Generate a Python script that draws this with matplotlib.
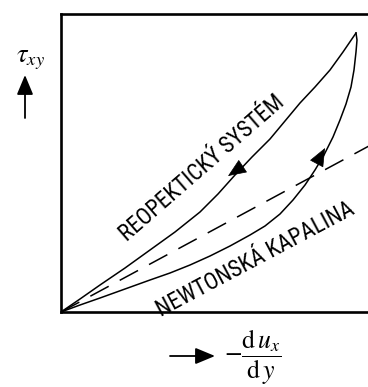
import matplotlib
matplotlib.use("Agg")
import matplotlib.pyplot as plt

plt.rcParams['mathtext.fontset'] = 'stix'
plt.rcParams['lines.scale_dashes'] = False

# Curve data (arbitrary units: shear rate vs. shear stress)
up_x = [0, 19, 39, 64, 89, 114, 139, 157, 174, 191, 209, 224, 239, 254, 269, 282, 295]
up_y = [0, 13, 27, 44, 62, 80, 100, 118, 137, 155, 173, 191, 209, 225, 242, 260, 279]

low_x = [0, 19, 39, 64, 89, 109, 129, 149, 169, 189, 204, 219, 232, 244, 254, 263,
         272, 279, 285, 290, 293, 295, 296, 295]
low_y = [0, 7, 14, 23, 32, 39, 47, 56, 66, 77, 86, 98, 112, 127, 142, 157,
         175, 192, 208, 225, 242, 260, 272, 279]

newton_x = [0, 320]
newton_y = [0, 172.5]

# arrow heads on the curves (tip, tail)
arrow_down = [(167, 136), (179, 144)]
arrow_up = [(264, 164), (256, 149)]

W, H = 368, 387
fig = plt.figure(figsize=(W / 100, H / 100), dpi=100)
ax = fig.add_axes([61 / W, (H - 312) / H, (375 - 61) / W, (312 - 14) / H])
ax.set_xlim(0, 314)
ax.set_ylim(0, 298)
for s in ax.spines.values():
    s.set_linewidth(1.9)
ax.set_xticks([])
ax.set_yticks([])

lw = 1.1
ax.plot(up_x, up_y, color='black', lw=lw, solid_joinstyle='round')
ax.plot(low_x, low_y, color='black', lw=lw, solid_joinstyle='round')
ax.plot(newton_x, newton_y, color='black', lw=lw, dashes=(15, 9))

for tip, tail in (arrow_down, arrow_up):
    ax.annotate('', xy=tip, xytext=tail,
                arrowprops=dict(arrowstyle='-|>,head_length=1.2,head_width=0.5',
                                mutation_scale=10, color='black', lw=0.5,
                                shrinkA=0, shrinkB=0))

font = ['Roboto Condensed', 'Liberation Sans Narrow', 'Liberation Sans']
ax.text(141, 144, 'REOPEKTICKÝ SYSTÉM', rotation=41, rotation_mode='anchor',
        ha='center', va='center', fontsize=16.5, family=font)
ax.text(194, 53, 'NEWTONSKÁ KAPALINA', rotation=28, rotation_mode='anchor',
        ha='center', va='center', fontsize=16.5, family=font)

# axis labels with arrows (figure pixel positions)
def fx(px):
    return px / W

def fy(py):
    return 1 - py / H

fig.text(fx(30), fy(59), r'$\tau_{xy}$', ha='center', va='center', fontsize=19)
fig.patches.append(matplotlib.patches.FancyArrowPatch(
    (fx(25), fy(118)), (fx(25), fy(75)), transform=fig.transFigure,
    arrowstyle='-|>,head_length=1.2,head_width=0.5', mutation_scale=10,
    color='black', lw=1.3, shrinkA=0, shrinkB=0))

fig.patches.append(matplotlib.patches.FancyArrowPatch(
    (fx(170), fy(356)), (fx(215), fy(356)), transform=fig.transFigure,
    arrowstyle='-|>,head_length=1.2,head_width=0.5', mutation_scale=10,
    color='black', lw=1.3, shrinkA=0, shrinkB=0))
fig.text(fx(224), fy(357), r'$-\dfrac{\mathrm{d}\,u_x}{\mathrm{d}\,y}$',
         ha='left', va='center', fontsize=18.5)

fig.savefig('out.png', dpi=100)
